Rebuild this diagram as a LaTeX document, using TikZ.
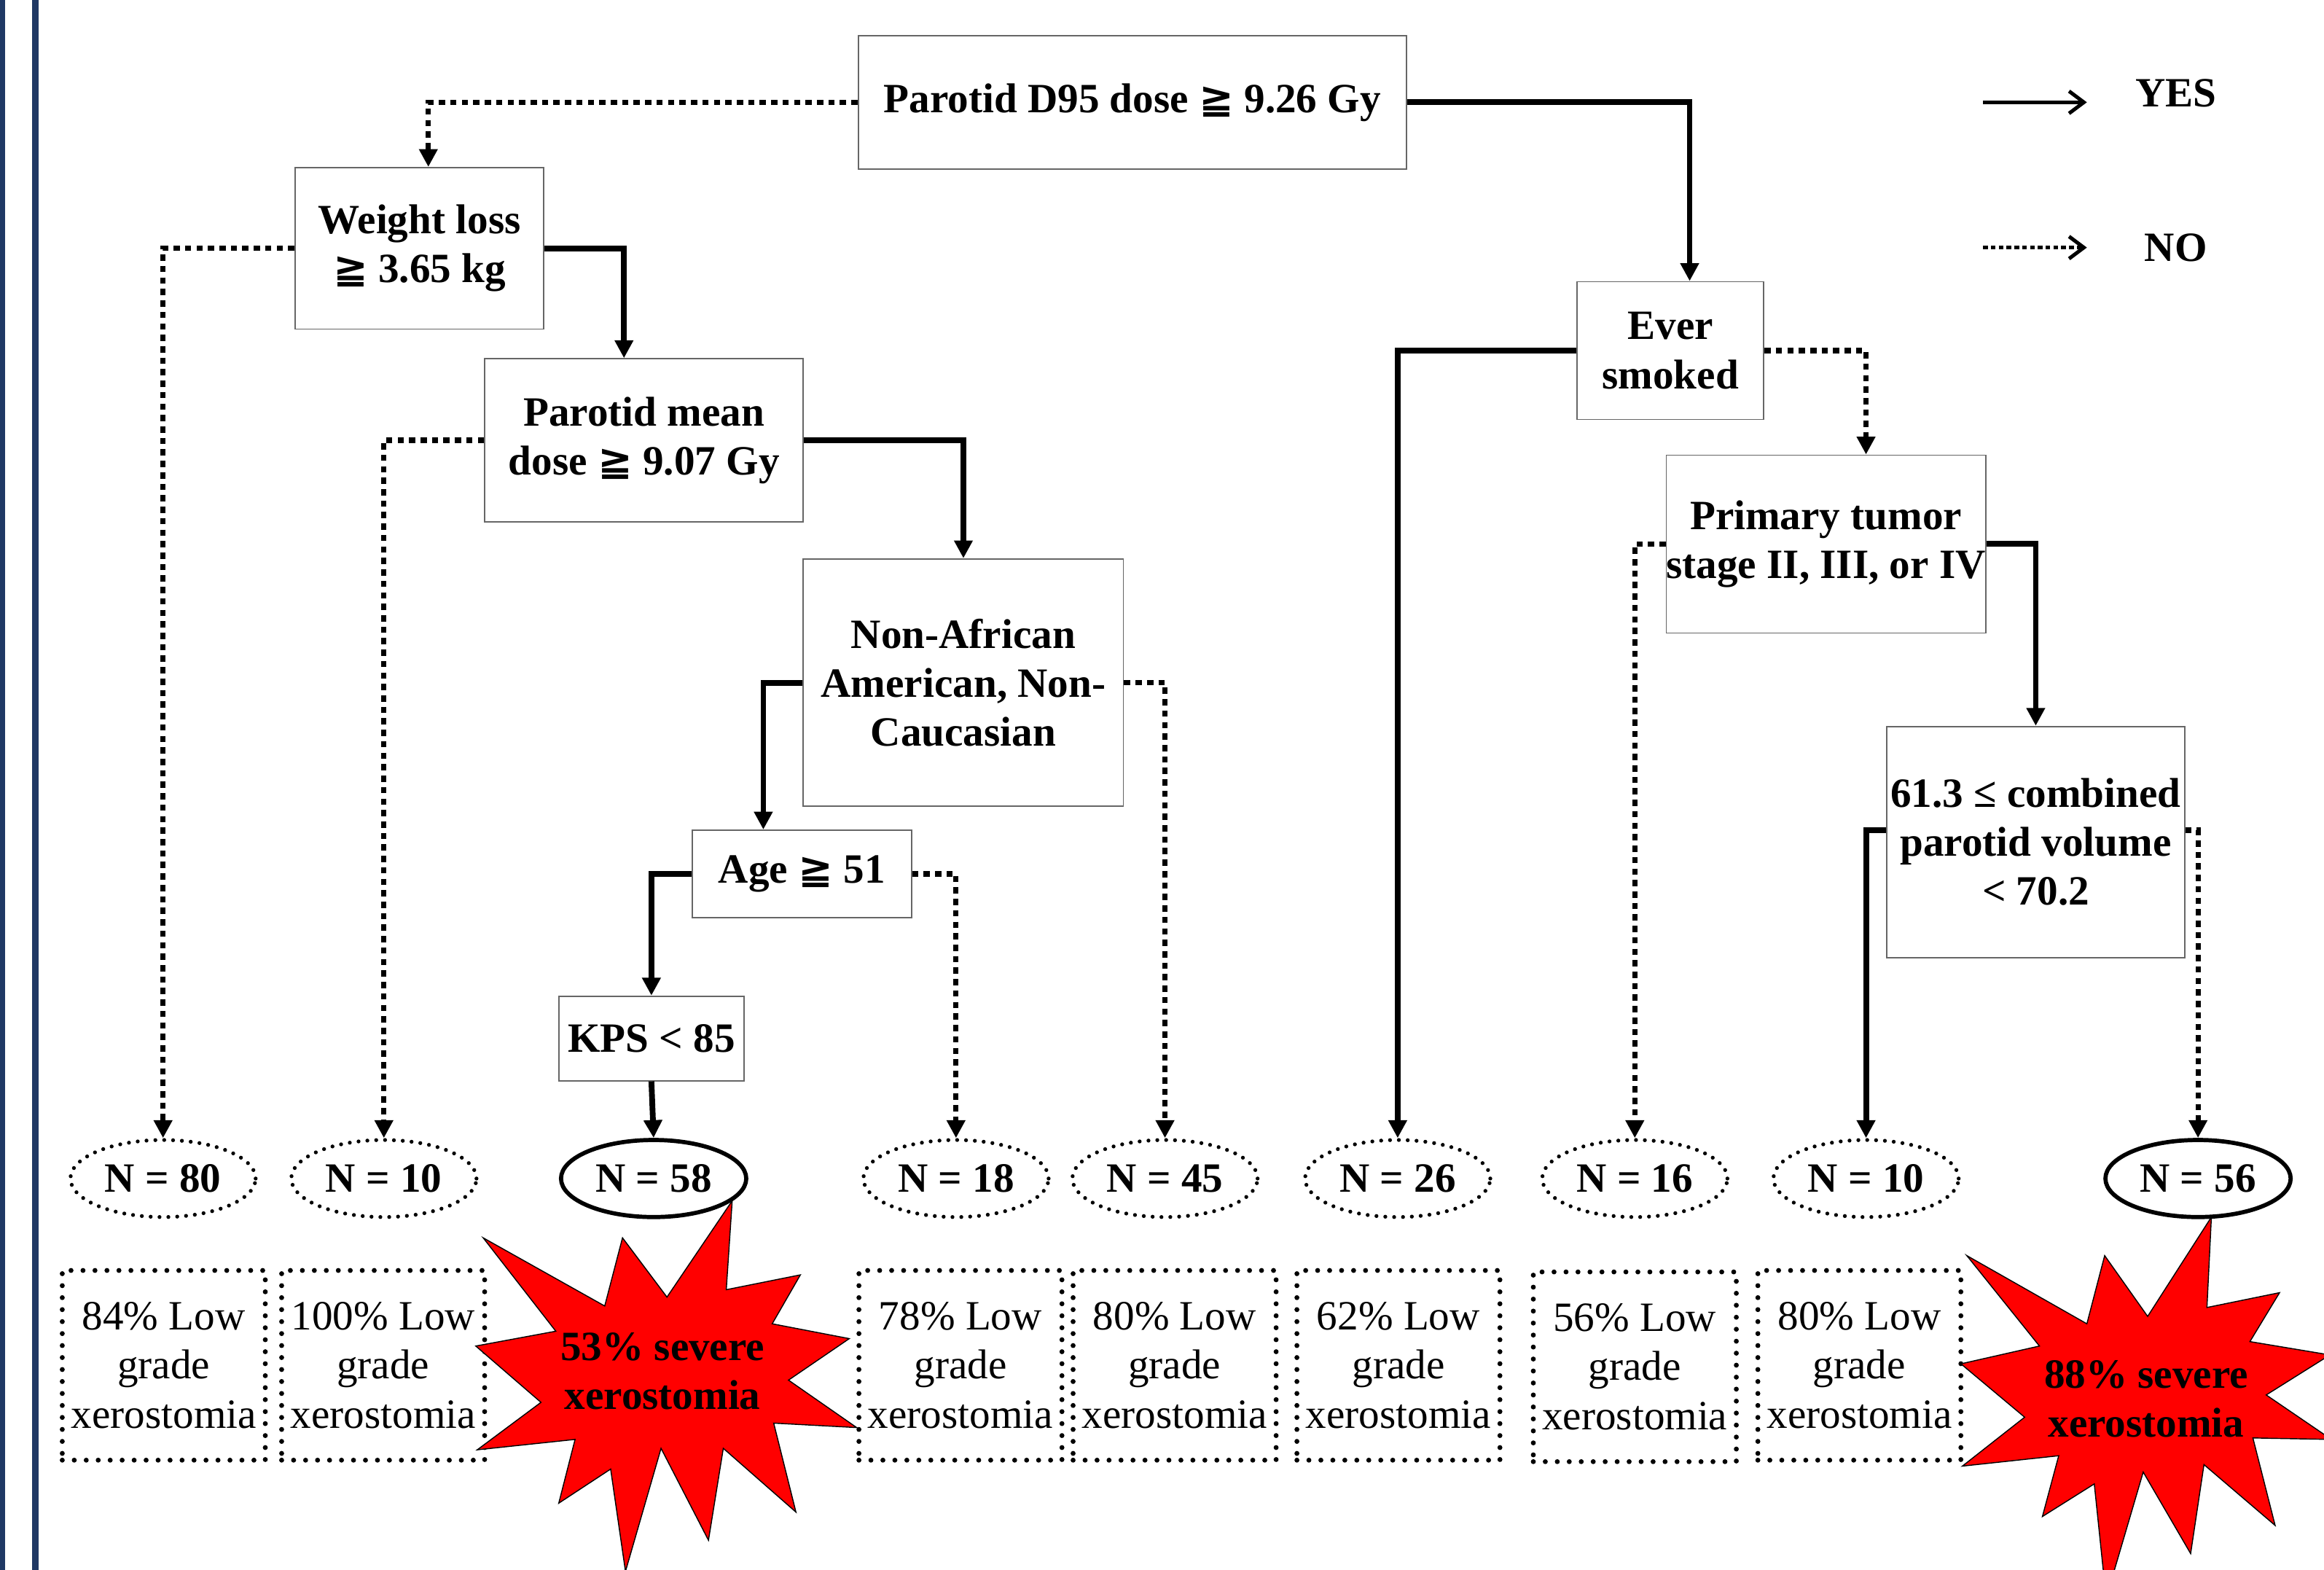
\documentclass[tikz,border=0pt]{standalone}
\usepackage{fontspec}
\setmainfont{Liberation Serif}
\newfontfamily\dejavu{DejaVu Sans}
\usetikzlibrary{arrows.meta,shapes.geometric}
\definecolor{barblue}{RGB}{31,56,100}
\newcommand{\gqq}{{\dejavu ≧}}

\begin{document}
\begin{tikzpicture}[x=0.02cm,y=-0.02cm,
  font=\fontsize{16}{18.8}\selectfont,
  test/.style={draw=black!60,line width=0.5pt,fill=white,align=center,inner sep=0pt,font=\fontsize{16}{18.8}\selectfont\bfseries},
  count/.style={ellipse,draw,minimum width=2.5cm,minimum height=1.04cm,inner sep=0pt,line width=1.5pt,line cap=round,dash pattern=on 0pt off 3.4pt,font=\fontsize{16}{18.8}\selectfont\bfseries},
  bigcount/.style={count,solid,line width=1.6pt},
  result/.style={draw,minimum width=2.74cm,minimum height=2.56cm,inner sep=0pt,line width=1.9pt,line cap=round,dash pattern=on 0pt off 4.6pt,align=center},
  yes/.style={line width=2.2pt,-{Triangle[length=0.24cm,width=0.24cm]}},
  no/.style={line width=2pt,dash pattern=on 2.4pt off 2pt,-{Triangle[length=0.24cm,width=0.24cm]}},
  key/.style={line width=1.4pt,-{Straight Barb[length=0.2cm,width=0.3cm]}},
  burst/.style={fill=red,draw=black,line width=0.4pt},
  severe/.style={align=center,font=\fontsize{16}{18.8}\selectfont\bfseries}]
  \useasboundingbox (0,0) rectangle (1568,1059);
  \begin{scope}
    \fill[barblue] (0,0) rectangle (3.5,1059);
    \fill[barblue] (21.7,0) rectangle (26,1059);

    \node[test,minimum width=7.4cm,minimum height=1.8cm] (root) at (764,69) {Parotid D95 dose \gqq{} 9.26 Gy};
    \node[test,minimum width=3.36cm,minimum height=2.18cm] (wloss) at (283,167.5) {Weight loss\\\gqq{} 3.65 kg};
    \node[test,minimum width=4.3cm,minimum height=2.2cm] (pmean) at (434.5,297) {Parotid mean\\dose \gqq{} 9.07 Gy};
    \node[test,minimum width=4.32cm,minimum height=3.34cm] (nonaf) at (650,460.5) {Non-African\\American, Non-\\Caucasian};
    \node[test,minimum width=2.96cm,minimum height=1.18cm] (age) at (541,589.5) {Age \gqq{} 51};
    \node[test,minimum width=2.5cm,minimum height=1.14cm] (kps) at (439.5,700.5) {KPS < 85};
    \node[test,minimum width=2.52cm,minimum height=1.86cm] (smoke) at (1127,236.5) {Ever\\smoked};
    \node[test,minimum width=4.24cm,minimum height=2.4cm] (primary) at (1232,367) {Primary tumor\\stage II, III, or IV};
    \node[test,minimum width=4.02cm,minimum height=3.12cm] (comb) at (1373.5,568) {61.3 ≤ combined\\parotid volume\\< 70.2};

    \node[count] (n80) at (110,795) {N = 80};
    \node[count] (n10a) at (259,795) {N = 10};
    \node[bigcount] (n58) at (441,795) {N = 58};
    \node[count] (n18) at (645,795) {N = 18};
    \node[count] (n45) at (786,795) {N = 45};
    \node[count] (n26) at (943,795) {N = 26};
    \node[count] (n16) at (1103,795) {N = 16};
    \node[count] (n10b) at (1259,795) {N = 10};
    \node[bigcount] (n56) at (1483,795) {N = 56};

    \draw[no] (root.west) -| ([xshift=0.12cm]wloss.north);
    \draw[yes] (root.east) -| ([xshift=0.26cm]smoke.north);
    \draw[no] (wloss.west) -| (n80.north);
    \draw[yes] (wloss.east) -| ([xshift=-0.27cm]pmean.north);
    \draw[no] (pmean.west) -| (n10a.north);
    \draw[yes] (pmean.east) -| (nonaf.north);
    \draw[yes] (nonaf.west) -| ([xshift=-0.52cm]age.north);
    \draw[no] (nonaf.east) -| (n45.north);
    \draw[yes] (age.west) -| (kps.north);
    \draw[no] (age.east) -| (n18.north);
    \draw[yes] (kps.south) -- (n58.north);
    \draw[yes] (smoke.west) -| (n26.north);
    \draw[no] (smoke.east) -| ([xshift=0.54cm]primary.north);
    \draw[no] (primary.west) -| (n16.north);
    \draw[yes] (primary.east) -| (comb.north);
    \draw[yes] ([yshift=0.16cm]comb.west) -| (n10b.north);
    \draw[no] ([yshift=0.16cm]comb.east) -| (n56.north);

    \node[result] (r80) at (110.5,921) {84\% Low\\grade\\xerostomia};
    \node[result] (r10a) at (258.5,921) {100\% Low\\grade\\xerostomia};
    \node[result] (r18) at (648,921) {78\% Low\\grade\\xerostomia};
    \node[result] (r45) at (792.5,921) {80\% Low\\grade\\xerostomia};
    \node[result] (r26) at (943.5,921) {62\% Low\\grade\\xerostomia};
    \node[result] (r16) at (1103,922) {56\% Low\\grade\\xerostomia};
    \node[result] (r10b) at (1254.5,921) {80\% Low\\grade\\xerostomia};

    \draw[burst] (494,810) -- (490,870) -- (540,860) -- (521,893) -- (573,903) -- (532,931)
      -- (578,963) -- (522,960) -- (537,1020) -- (488,977) -- (478,1039) -- (446,977)
      -- (422,1060) -- (412,991) -- (377,1014) -- (388,971) -- (322,978) -- (365,946)
      -- (321,908) -- (375,898) -- (326,835) -- (408,881) -- (420,835) -- (450,875) -- cycle;
    \node[severe] (sev58) at (447,925) {53\% severe\\xerostomia};

    \draw[burst] (1492,821) -- (1489,882) -- (1538,872) -- (1518,905) -- (1572,914) -- (1529,941)
      -- (1573,971) -- (1520,970) -- (1535,1029) -- (1487,988) -- (1478,1048) -- (1446,993)
      -- (1421,1078) -- (1413,1001) -- (1378,1023) -- (1389,982) -- (1324,989) -- (1366,956)
      -- (1323,920) -- (1376,908) -- (1327,847) -- (1408,893) -- (1420,847) -- (1449,888) -- cycle;
    \node[severe] (sev56) at (1448,943.5) {88\% severe\\xerostomia};

    \coordinate (yesA) at (1338,69);
    \coordinate (yesB) at (1408,69);
    \draw[key] (yesA) -- (yesB);
    \node[severe] (yeslbl) at (1468,63) {YES};
    \coordinate (noA) at (1338,167);
    \coordinate (noB) at (1408,167);
    \draw[key,dash pattern=on 1.8pt off 1.2pt] (noA) -- (noB);
    \node[severe] (nolbl) at (1468,167) {NO};
  \end{scope}
\end{tikzpicture}
\end{document}
